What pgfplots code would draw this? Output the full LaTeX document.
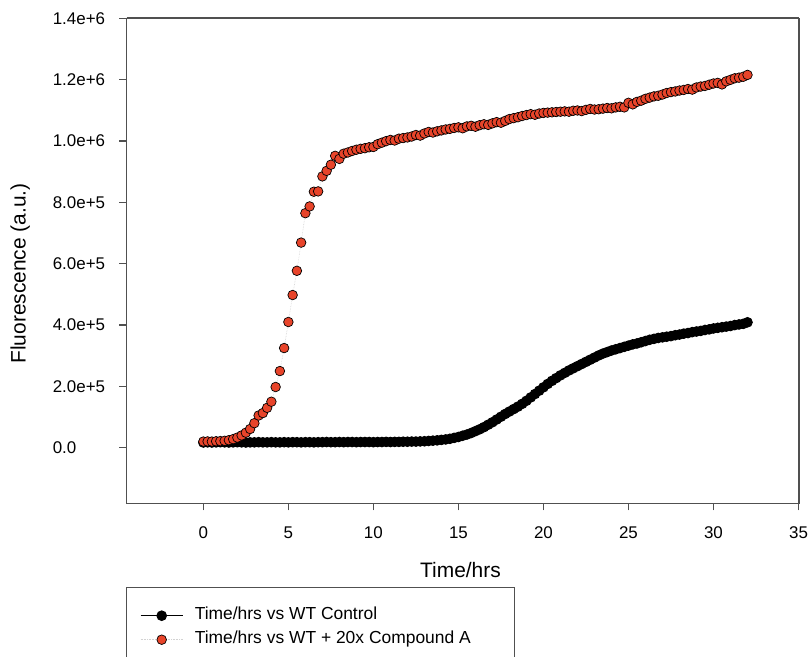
\documentclass[border=0pt]{standalone}
\usepackage{pgfplots}
\pgfplotsset{compat=1.18}
\usepackage{pgfplotstable}
\usepackage{fontspec}
\setmainfont{Liberation Sans}
\definecolor{redpt}{RGB}{232,68,42}
\definecolor{axgray}{RGB}{80,80,80}

\pgfplotstableread{
t v
0 17000
0.25 17500
0.5 17000
0.75 17500
1 18000
1.25 17500
1.5 17000
1.75 17500
2 18000
2.25 17500
2.5 17000
2.75 17500
3 17500
3.25 18000
3.5 17500
3.75 17500
4 18000
4.25 17500
4.5 17500
4.75 18000
5 17500
5.25 18000
5.5 18000
5.75 17500
6 18000
6.25 18000
6.5 17500
6.75 18000
7 18000
7.25 18500
7.5 18000
7.75 18000
8 18500
8.25 18000
8.5 18500
8.75 18500
9 18000
9.25 18500
9.5 18500
9.75 18500
10 18000
10.25 18500
10.5 18500
10.75 19000
11 18500
11.25 19000
11.5 19000
11.75 19500
12 19500
12.25 20000
12.5 20000
12.75 20500
13 21000
13.25 22000
13.5 23000
13.75 24000
14 25500
14.25 27000
14.5 29000
14.75 32000
15 35000
15.25 39000
15.5 43000
15.75 48000
16 54000
16.25 60000
16.5 67000
16.75 75000
17 83000
17.25 92000
17.5 101000
17.75 110000
18 118000
18.25 126000
18.5 134000
18.75 143000
19 153000
19.25 164000
19.5 175000
19.75 186000
20 197000
20.25 208000
20.5 218000
20.75 227000
21 236000
21.25 244000
21.5 252000
21.75 259000
22 266000
22.25 273000
22.5 280000
22.75 287000
23 294000
23.25 301000
23.5 307000
23.75 312000
24 317000
24.25 321000
24.5 325000
24.75 329000
25 333000
25.25 337000
25.5 340000
25.75 344000
26 348000
26.25 352000
26.5 355000
26.75 358000
27 360000
27.25 362000
27.5 364000
27.75 367000
28 369000
28.25 372000
28.5 374000
28.75 377000
29 379000
29.25 381000
29.5 384000
29.75 386000
30 389000
30.25 391000
30.5 393000
30.75 395000
31 397000
31.25 400000
31.5 402000
31.75 404000
32 409000
}\wtcontrol

\pgfplotstableread{
t v
0 20000
0.25 20500
0.5 20000
0.75 21000
1 21500
1.25 22500
1.5 24500
1.75 28000
2 33000
2.25 40000
2.5 49000
2.75 61000
3 80000
3.25 105000
3.5 113000
3.75 130000
4 150000
4.25 198000
4.5 250000
4.75 325000
5 410000
5.25 498000
5.5 577000
5.75 669000
6 765000
6.25 787000
6.5 835000
6.75 836000
7 885000
7.25 903000
7.5 923000
7.75 952000
8 942000
8.25 959000
8.5 963000
8.75 968000
9 972000
9.25 975000
9.5 977000
9.75 980000
10 981000
10.25 990000
10.5 995000
10.75 1000000
11 1004000
11.25 1002000
11.5 1008000
11.75 1010000
12 1012000
12.25 1015000
12.5 1020000
12.75 1018000
13 1025000
13.25 1030000
13.5 1028000
13.75 1032000
14 1035000
14.25 1038000
14.5 1040000
14.75 1043000
15 1045000
15.25 1042000
15.5 1048000
15.75 1050000
16 1047000
16.25 1052000
16.5 1055000
16.75 1053000
17 1058000
17.25 1062000
17.5 1060000
17.75 1066000
18 1072000
18.25 1075000
18.5 1078000
18.75 1082000
19 1085000
19.25 1088000
19.5 1086000
19.75 1090000
20 1092000
20.25 1093000
20.5 1094000
20.75 1095000
21 1096000
21.25 1097000
21.5 1096000
21.75 1099000
22 1100000
22.25 1098000
22.5 1102000
22.75 1105000
23 1103000
23.25 1104000
23.5 1106000
23.75 1108000
24 1107000
24.25 1110000
24.5 1112000
24.75 1110000
25 1125000
25.25 1120000
25.5 1128000
25.75 1132000
26 1138000
26.25 1142000
26.5 1146000
26.75 1148000
27 1152000
27.25 1157000
27.5 1160000
27.75 1162000
28 1165000
28.25 1167000
28.5 1170000
28.75 1168000
29 1175000
29.25 1178000
29.5 1180000
29.75 1184000
30 1188000
30.25 1190000
30.5 1185000
30.75 1195000
31 1200000
31.25 1205000
31.5 1207000
31.75 1210000
32 1216000
}\wtcompound

\begin{document}
\begin{tikzpicture}
\useasboundingbox (0bp,0bp) rectangle (809bp,657bp);
\begin{axis}[
  at={(126.5bp,153.5bp)}, anchor=south west,
  scale only axis, width=672bp, height=485bp,
  xmin=-4.52, xmax=35, ymin=-182000, ymax=1400000,
  axis line style={draw=axgray, line width=1.5bp},
  every tick/.style={axgray, line width=1.3bp},
  tick align=outside, major tick length=7bp,
  xtick={0,5,10,15,20,25,30,35}, xticklabels={0,5,10,15,20,25,30,35},
  ytick={0,200000,400000,600000,800000,1000000,1200000,1400000},
  yticklabels={0.0,2.0e+5,4.0e+5,6.0e+5,8.0e+5,1.0e+6,1.2e+6,1.4e+6},
  xtick pos=left, ytick pos=left,
  scaled ticks=false,
  clip=false,
  ticklabel style={font=\fontsize{17}{20}\selectfont, text=black},
  yticklabel style={anchor=east, text width=56bp, align=left, inner sep=0pt, xshift=-10.5bp},
  xticklabel style={anchor=north, inner sep=0pt, yshift=-16bp},
  xlabel={Time/hrs},
  xlabel style={at={(axis description cs:0.497,-0.137)}, anchor=center, font=\fontsize{21}{25}\selectfont},
  ylabel={Fluorescence (a.u.)},
  ylabel style={at={(axis description cs:-0.158,0.4745)}, anchor=center, font=\fontsize{21}{25}\selectfont},
  legend style={at={(0,0)}, anchor=north west, xshift=13.5bp, yshift=-104bp, draw=none, fill=none,
    inner sep=0pt, font=\fontsize{17.5}{21}\selectfont, row sep=8bp, column sep=11.6bp,
    nodes={inner sep=0pt, text height=12bp, text depth=4bp, anchor=west}},
  legend cell align=left,
  legend image code/.code={\draw[mark repeat=2,mark phase=2,#1] plot coordinates {(0bp,0bp) (21bp,0bp) (42bp,0bp)};},
]
\addplot[black, line width=1bp, mark=*, mark size=4.8bp, mark options={fill=black, draw=black}] table[x=t, y=v] {\wtcontrol};
\addlegendentry{Time/hrs vs WT Control}
\addplot[draw=gray!35, densely dotted, line width=0.6bp, mark=*, mark size=4.8bp,
  mark options={solid, fill=redpt, draw=black, line width=0.7bp}] table[x=t, y=v] {\wtcompound};
\addlegendentry{Time/hrs vs WT + 20x Compound A}
\draw[draw=axgray, line width=2bp] (rel axis cs:0,1) -- (rel axis cs:1,1);
\draw[draw=axgray, line width=2bp] (rel axis cs:1,1) -- (rel axis cs:1,0);
\end{axis}
\draw[axgray, line width=1.5bp] (126.5bp,69.5bp) rectangle (514.5bp,-5bp);
\end{tikzpicture}
\end{document}
